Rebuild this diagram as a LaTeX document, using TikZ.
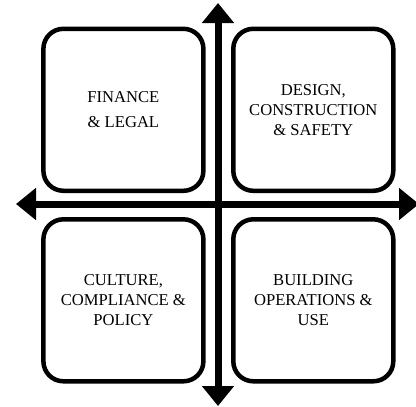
\documentclass[tikz,border=0pt]{standalone}
\usepackage{fontspec}
\setmainfont{Liberation Serif}
\usetikzlibrary{positioning, arrows.meta}
\tikzset{area/.style = {draw, line width=4.5pt, rounded corners=20pt,
                        minimum width=160pt, minimum height=162pt,
                        inner sep=0pt, align=center,
                        font=\fontsize{16.6}{20}\selectfont}}
\tikzset{axis/.style = {line width=7pt,
                        {Triangle[length=20pt,width=31pt]}-{Triangle[length=20pt,width=31pt]}}}

\begin{document}
\begin{tikzpicture}[x=1pt, y=-1pt]
            \useasboundingbox (0, 0) rectangle (416, 407);

            \node [area] (1) at (123.4, 109.8) {FINANCE\\[5pt]\& LEGAL};
            \node [area] (2) at (313.3, 109.8) {DESIGN,\\CONSTRUCTION\\\& SAFETY};
            \node [area] (3) at (123.4, 300.3) {CULTURE,\\COMPLIANCE \&\\POLICY};
            \node [area] (4) at (313.3, 300.3) {BUILDING\\OPERATIONS \&\\USE};

            \coordinate (top)    at (218,   3);
            \coordinate (bottom) at (218, 406);
            \coordinate (left)   at ( 16, 204);
            \coordinate (right)  at (419, 204);

            \draw [axis] (bottom) -- (top);
            \draw [axis] (left) -- (right);
        \end{tikzpicture}
\end{document}
